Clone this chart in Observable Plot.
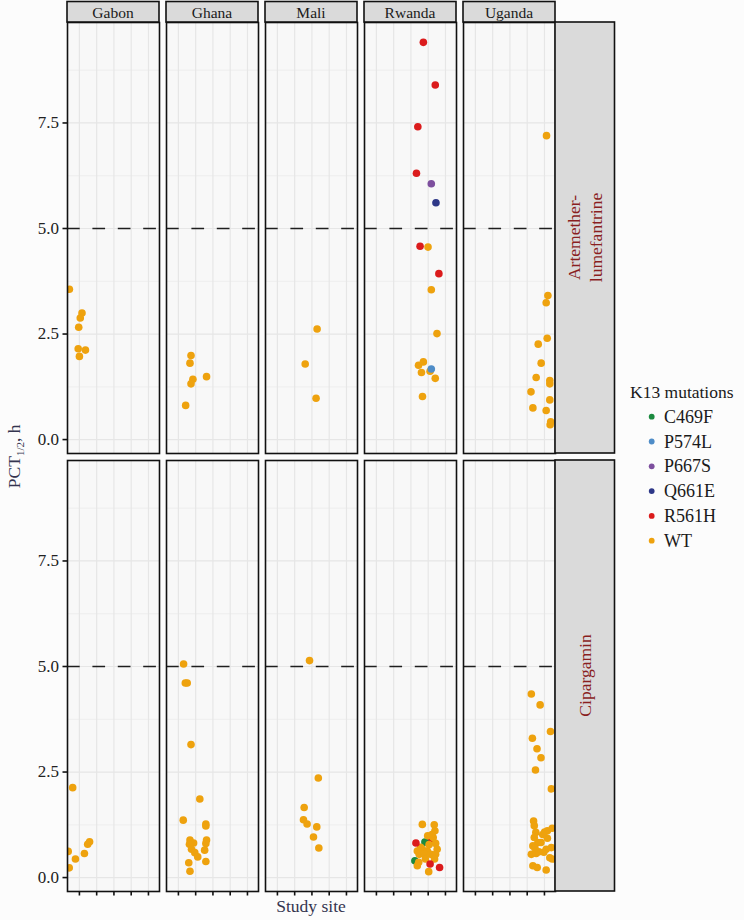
<!DOCTYPE html>
<html>
<head>
<meta charset="utf-8">
<script src="https://cdn.jsdelivr.net/npm/d3@7"></script>
<script src="https://cdn.jsdelivr.net/npm/@observablehq/plot@0.6"></script>
<style>
  html, body { margin: 0; padding: 0; background: #fcfcfc; }
  #chart { position: relative; width: 744px; height: 920px; }
</style>
</head>
<body>
<div id="chart"></div>
<script>
// ---- categories ----
const countries = ["Gabon", "Ghana", "Mali", "Rwanda", "Uganda"];
const drugs = ["Artemether-lumefantrine", "Cipargamin"];
const drugLines = [["Artemether-", "lumefantrine"], ["Cipargamin"]];
const mutations = ["C469F", "P574L", "P667S", "Q661E", "R561H", "WT"];
const mutationColors = ["#1b8a3f", "#4f8dc8", "#7d4f9e", "#2e3888", "#db1b1c", "#eea20e"];
const yTicks = [0, 2.5, 5, 7.5];
const yMinor = [1.25, 3.75, 6.25, 8.75];
const xTicks = [1, 2, 3, 4, 5];
const threshold = 5;

// ---- values: [study-site position, PCT1/2 (h), K13 mutation] ----
const gabonAL = [[0.42,3.56,"WT"],[1.15,3.00,"WT"],[1.05,2.88,"WT"],[0.96,2.66,"WT"],[0.93,2.15,"WT"],[1.35,2.12,"WT"],[1.00,1.97,"WT"]];
const ghanaAL = [[1.73,1.99,"WT"],[1.67,1.81,"WT"],[1.84,1.43,"WT"],[1.73,1.32,"WT"],[2.63,1.49,"WT"],[1.42,0.81,"WT"]];
const maliAL = [[3.30,2.62,"WT"],[2.61,1.79,"WT"],[3.24,0.98,"WT"]];
const rwandaAL = [
  [3.72,9.41,"R561H"],[4.41,8.40,"R561H"],[3.40,7.41,"R561H"],[3.32,6.31,"R561H"],
  [4.18,6.06,"P667S"],[4.45,5.61,"Q661E"],[3.53,4.58,"R561H"],[3.99,4.56,"WT"],
  [4.62,3.93,"R561H"],[4.18,3.55,"WT"],[4.51,2.51,"WT"],[3.44,1.76,"WT"],
  [3.72,1.84,"WT"],[4.11,1.62,"WT"],[4.18,1.67,"P574L"],[3.61,1.59,"WT"],
  [4.41,1.45,"WT"],[3.67,1.02,"WT"]
];
const ugandaAL = [
  [5.12,7.20,"WT"],[5.20,3.41,"WT"],[5.10,3.24,"WT"],[5.16,2.40,"WT"],[4.64,2.26,"WT"],
  [4.81,1.81,"WT"],[4.52,1.47,"WT"],[5.31,1.40,"WT"],[5.31,1.32,"WT"],[4.22,1.13,"WT"],
  [5.31,0.94,"WT"],[4.33,0.75,"WT"],[5.10,0.69,"WT"],[5.33,0.35,"WT"],[5.36,0.42,"WT"]
];
const gabonCIP = [[0.61,2.13,"WT"],[0.35,0.62,"WT"],[0.41,0.23,"WT"],[0.77,0.44,"WT"],[1.29,0.57,"WT"],[1.48,0.79,"WT"],[1.59,0.85,"WT"]];
const ghanaCIP = [
  [1.30,5.06,"WT"],[1.40,4.61,"WT"],[1.51,4.61,"WT"],[1.73,3.15,"WT"],[2.24,1.86,"WT"],
  [1.28,1.36,"WT"],[2.59,1.27,"WT"],[2.59,1.22,"WT"],[1.67,0.89,"WT"],[1.88,0.82,"WT"],
  [1.64,0.79,"WT"],[2.63,0.89,"WT"],[2.59,0.81,"WT"],[1.76,0.67,"WT"],[1.95,0.59,"WT"],
  [2.12,0.49,"WT"],[2.52,0.65,"WT"],[1.60,0.35,"WT"],[2.59,0.38,"WT"],[1.67,0.15,"WT"]
];
const maliCIP = [[2.86,5.14,"WT"],[3.37,2.36,"WT"],[2.55,1.66,"WT"],[2.51,1.37,"WT"],[2.72,1.27,"WT"],[3.28,1.20,"WT"],[3.09,0.96,"WT"],[3.40,0.70,"WT"]];
const rwandaCIP = [
  [4.18,0.89,"R561H"],[3.81,0.84,"C469F"],[3.23,0.40,"C469F"],
  [3.66,1.26,"WT"],[4.35,1.25,"WT"],[4.39,1.11,"WT"],[3.97,0.99,"WT"],[4.29,0.95,"WT"],
  [4.43,0.81,"WT"],[4.52,0.67,"WT"],[3.37,0.63,"WT"],[3.66,0.67,"WT"],[3.95,0.63,"WT"],
  [3.48,0.55,"WT"],[3.77,0.55,"WT"],[4.15,0.55,"WT"],[4.43,0.55,"WT"],[3.45,0.36,"WT"],
  [3.37,0.28,"WT"],[4.37,0.44,"WT"],[4.03,0.14,"WT"],[3.84,0.44,"WT"],[3.56,0.72,"WT"],
  [4.05,0.78,"WT"],[4.22,1.02,"WT"],
  [3.29,0.82,"R561H"],[4.11,0.32,"R561H"],[4.66,0.24,"R561H"]
];
const ugandaCIP = [
  [4.24,4.35,"WT"],[4.75,4.09,"WT"],[5.35,3.46,"WT"],[4.30,3.30,"WT"],[4.57,3.05,"WT"],
  [4.80,2.84,"WT"],[4.48,2.55,"WT"],[5.40,2.10,"WT"],[4.37,1.34,"WT"],[4.41,1.23,"WT"],
  [4.50,1.07,"WT"],[5.01,1.08,"WT"],[5.17,1.11,"WT"],[5.45,1.17,"WT"],[4.62,0.83,"WT"],
  [4.33,0.75,"WT"],[4.80,0.83,"WT"],[5.10,0.67,"WT"],[5.40,0.71,"WT"],[4.24,0.55,"WT"],
  [4.52,0.57,"WT"],[4.96,0.60,"WT"],[5.31,0.47,"WT"],[5.45,0.44,"WT"],[4.33,0.28,"WT"],
  [4.58,0.24,"WT"],[5.10,0.18,"WT"],[4.68,0.61,"WT"],[4.41,0.95,"WT"],[5.17,0.93,"WT"],
  [4.45,0.70,"WT"],[4.90,1.02,"WT"]
];

const panels = [
  ["Gabon", drugs[0], gabonAL], ["Ghana", drugs[0], ghanaAL], ["Mali", drugs[0], maliAL],
  ["Rwanda", drugs[0], rwandaAL], ["Uganda", drugs[0], ugandaAL],
  ["Gabon", drugs[1], gabonCIP], ["Ghana", drugs[1], ghanaCIP], ["Mali", drugs[1], maliCIP],
  ["Rwanda", drugs[1], rwandaCIP], ["Uganda", drugs[1], ugandaCIP]
];
const data = panels.flatMap(([country, drug, rows]) =>
  rows.map(([x, y, m]) => ({country, drug, site: x, pct: y, mutation: m})));

const FONT = "'Liberation Serif', 'DejaVu Serif', serif";
const W = 744, H = 920;

const plot = Plot.plot({
  width: W, height: H,
  marginLeft: 67, marginRight: 188, marginTop: 22, marginBottom: 29,
  style: {background: "transparent", fontFamily: FONT, overflow: "visible"},
  fx: {domain: countries, paddingInner: 0.068, paddingOuter: 0, axis: null},
  fy: {domain: drugs, paddingInner: 0.017, paddingOuter: 0, axis: null},
  x: {domain: [0.31, 5.64], axis: null},
  y: {domain: [-0.33, 9.88], axis: null},
  color: {domain: mutations, range: mutationColors},
  marks: [
    Plot.frame({fill: "#f8f8f8", stroke: "none"}),
    Plot.gridY(yMinor, {stroke: "#ececec", strokeOpacity: 1, strokeWidth: 0.8}),
    Plot.gridX(xTicks, {stroke: "#e6e6e6", strokeOpacity: 1, strokeWidth: 1.2}),
    Plot.gridY(yTicks, {stroke: "#e6e6e6", strokeOpacity: 1, strokeWidth: 1.2}),
    Plot.ruleY([threshold], {stroke: "#1e1e1e", strokeWidth: 1.3, strokeDasharray: "12.7,12.7"}),
    Plot.dot(data, {x: "site", y: "pct", fx: "country", fy: "drug", fill: "mutation", r: 3.8, clip: true}),
    Plot.frame({stroke: "#111", strokeWidth: 1.6}),
    Plot.axisY(yTicks, {anchor: "left", tickFormat: d3.format(".1f"), tickSize: 4.5, tickPadding: 4,
      fontSize: 17, fill: "#222", stroke: "#111", strokeWidth: 1.6, label: null}),
    Plot.axisX(xTicks, {anchor: "bottom", tickFormat: () => "", tickSize: 4.5,
      stroke: "#111", strokeWidth: 1.6, label: null})
  ]
});
document.getElementById("chart").appendChild(plot);

// ---- strips, titles and legend drawn with the plot's own facet scales ----
const svg = d3.select(plot);
const fx = plot.scale("fx"), fy = plot.scale("fy");
const fxBand = fx.bandwidth, fyBand = fy.bandwidth;
const mTop = 22, mLeft = 67;
const g = svg.append("g").attr("font-family", FONT).attr("text-anchor", "start");

countries.forEach(c => {
  const x0 = mLeft + fx.apply(c) - fx.apply(countries[0]);
  g.append("rect").attr("x", x0).attr("y", 1.5).attr("width", fxBand).attr("height", mTop - 1.5)
    .attr("fill", "#dadada").attr("stroke", "#111").attr("stroke-width", 1.6);
  g.append("text").attr("x", x0 + fxBand / 2).attr("y", 12).attr("text-anchor", "middle")
    .attr("dominant-baseline", "central").attr("font-size", 15.5).attr("fill", "#1a1a1a").text(c);
});
const panelRight = mLeft + fx.apply(countries[countries.length - 1]) - fx.apply(countries[0]) + fxBand;
const stripW = 59.5;
drugs.forEach((d, i) => {
  const y0 = mTop + fy.apply(d) - fy.apply(drugs[0]);
  g.append("rect").attr("x", panelRight).attr("y", y0).attr("width", stripW).attr("height", fyBand)
    .attr("fill", "#dadada").attr("stroke", "#111").attr("stroke-width", 1.6);
  const lines = drugLines[i];
  const cx = panelRight + stripW / 2, cy = y0 + fyBand / 2;
  const t = g.append("text").attr("transform", `translate(${cx},${cy}) rotate(-90)`)
    .attr("text-anchor", "middle").attr("font-size", 17.5).attr("fill", "#8a1f1f");
  lines.forEach((ln, k) => {
    t.append("tspan").attr("x", 0).attr("y", (k - (lines.length - 1) / 2) * 22)
      .attr("dominant-baseline", "central").text(ln);
  });
});

// y-axis title
const yt = g.append("text").attr("transform", `translate(20,${mTop + (890.7 - mTop) / 2}) rotate(-90)`)
  .attr("text-anchor", "middle").attr("font-size", 17.5).attr("fill", "#34344f");
yt.append("tspan").text("PCT");
yt.append("tspan").attr("font-size", 11).attr("dy", 4).text("1/2");
yt.append("tspan").attr("dy", -4).text(", h");

// x-axis title
g.append("text").attr("x", mLeft + (panelRight - mLeft) / 2).attr("y", 912).attr("text-anchor", "middle")
  .attr("font-size", 17.5).attr("fill", "#34344f").text("Study site");

// legend
const lg = g.append("g").attr("text-anchor", "start");
lg.append("text").attr("x", 630).attr("y", 398).attr("font-size", 17.5).attr("fill", "#1a1a1a").text("K13 mutations");
mutations.forEach((m, i) => {
  const y = 416.7 + i * 24.8;
  lg.append("circle").attr("cx", 651.7).attr("cy", y).attr("r", 2.9).attr("fill", mutationColors[i]);
  lg.append("text").attr("x", 664).attr("y", y).attr("dominant-baseline", "central")
    .attr("font-size", 18).attr("fill", "#1a1a1a").text(m);
});
</script>
</body>
</html>
